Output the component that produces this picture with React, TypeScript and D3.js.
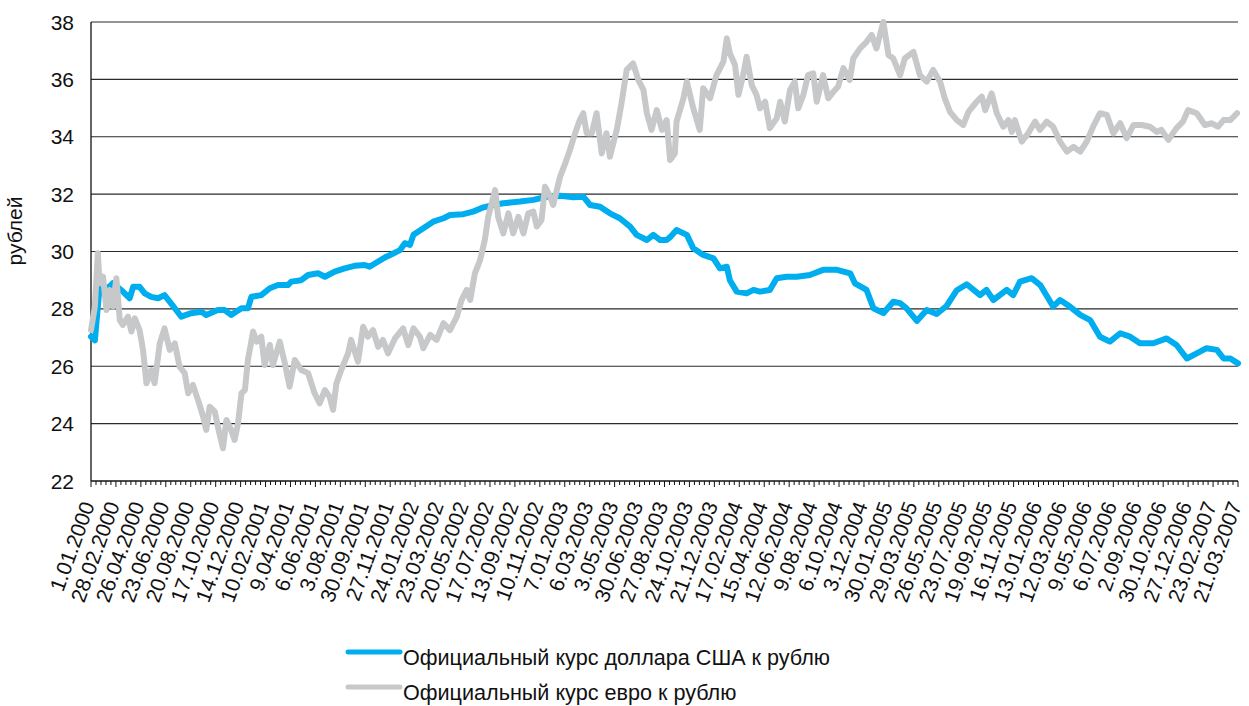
import React, { useRef, useEffect } from "react";
import * as d3 from "d3";

// category labels of the date axis (every 58 days, plus the last date)
const dateLabels = [
  "1.01.2000", "28.02.2000", "26.04.2000", "23.06.2000", "20.08.2000", "17.10.2000", "14.12.2000",
  "10.02.2001", "9.04.2001", "6.06.2001", "3.08.2001", "30.09.2001", "27.11.2001",
  "24.01.2002", "23.03.2002", "20.05.2002", "17.07.2002", "13.09.2002", "10.11.2002",
  "7.01.2003", "6.03.2003", "3.05.2003", "30.06.2003", "27.08.2003", "24.10.2003", "21.12.2003",
  "17.02.2004", "15.04.2004", "12.06.2004", "9.08.2004", "6.10.2004", "3.12.2004",
  "30.01.2005", "29.03.2005", "26.05.2005", "23.07.2005", "19.09.2005", "16.11.2005",
  "13.01.2006", "12.03.2006", "9.05.2006", "6.07.2006", "2.09.2006", "30.10.2006", "27.12.2006",
  "23.02.2007", "21.03.2007",
];

const yTicks = [22, 24, 26, 28, 30, 32, 34, 36, 38];

const seriesNames = [
  "Официальный курс доллара США к рублю",
  "Официальный курс евро к рублю",
];

// days since 1.01.2000 and rate
const usdDay = [
  0, 9, 20, 40, 51, 70, 90, 98, 113, 125,
  140, 156, 171, 183, 198, 210, 233, 257, 268, 295,
  311, 326, 350, 365, 373, 396, 416, 435, 458, 466,
  489, 505, 528, 544, 567, 590, 613, 637, 648, 668,
  687, 696, 719, 730, 742, 750, 773, 796, 820, 835,
  866, 889, 913, 936, 959, 998, 1029, 1060, 1091, 1122,
  1145, 1161, 1184, 1207, 1230, 1254, 1269, 1293, 1308, 1324,
  1339, 1347, 1362, 1386, 1401, 1424, 1448, 1463, 1479, 1486,
  1502, 1525, 1541, 1556, 1579, 1595, 1618, 1642, 1672, 1703,
  1735, 1766, 1777, 1804, 1820, 1843, 1866, 1882, 1897, 1921,
  1944, 1967, 1990, 2014, 2037, 2068, 2083, 2099, 2130, 2145,
  2161, 2188, 2208, 2238, 2254, 2277, 2301, 2324, 2347, 2370,
  2394, 2417, 2440, 2471, 2502, 2525, 2549, 2572, 2595, 2614,
  2621, 2628, 2636,
];
const usdRate = [
  27.03, 26.9, 28.77, 28.73, 28.9, 28.66, 28.37, 28.77, 28.77, 28.54,
  28.42, 28.37, 28.48, 28.25, 27.96, 27.73, 27.85, 27.9, 27.79, 27.96,
  27.96, 27.79, 28.02, 28.02, 28.42, 28.48, 28.72, 28.83, 28.83, 28.95,
  29.0, 29.18, 29.24, 29.12, 29.3, 29.41, 29.5, 29.53, 29.47, 29.65,
  29.82, 29.88, 30.05, 30.29, 30.23, 30.58, 30.81, 31.04, 31.16, 31.27,
  31.3, 31.39, 31.54, 31.62, 31.68, 31.74, 31.8, 31.91, 31.94, 31.89,
  31.91, 31.62, 31.56, 31.33, 31.16, 30.87, 30.58, 30.4, 30.58, 30.4,
  30.4, 30.5, 30.75, 30.58, 30.11, 29.88, 29.76, 29.41, 29.47, 29.0,
  28.6, 28.54, 28.66, 28.6, 28.66, 29.07, 29.12, 29.12, 29.18, 29.36,
  29.36, 29.24, 28.89, 28.66, 28.02, 27.85, 28.25, 28.2, 28.02, 27.58,
  27.96, 27.82, 28.1, 28.65, 28.86, 28.48, 28.66, 28.31, 28.66, 28.48,
  28.95, 29.07, 28.83, 28.08, 28.31, 28.08, 27.79, 27.61, 27.03, 26.86,
  27.15, 27.03, 26.8, 26.8, 26.97, 26.74, 26.27, 26.45, 26.63, 26.57,
  26.27, 26.27, 26.1,
];

const eurDay = [
  0, 9, 16, 20, 28, 36, 43, 51, 59, 67,
  74, 86, 94, 102, 113, 121, 129, 140, 148, 160,
  171, 183, 195, 206, 218, 226, 237, 249, 261, 268,
  276, 288, 295, 307, 315, 326, 334, 342, 350, 358,
  365, 377, 385, 396, 404, 416, 423, 439, 451, 462,
  474, 489, 505, 520, 532, 544, 555, 563, 571, 582,
  598, 605, 621, 633, 644, 656, 668, 679, 691, 707,
  726, 738, 750, 765, 773, 789, 804, 820, 835, 851,
  862, 874, 882, 893, 905, 916, 924, 940, 947, 959,
  971, 982, 994, 1006, 1017, 1029, 1037, 1048, 1056, 1068,
  1075, 1091, 1103, 1114, 1126, 1137, 1145, 1153, 1165, 1176,
  1188, 1199, 1207, 1223, 1234, 1246, 1261, 1273, 1285, 1293,
  1304, 1316, 1328, 1339, 1347, 1358, 1362, 1378, 1386, 1401,
  1416, 1424, 1440, 1455, 1471, 1479, 1486, 1498, 1506, 1517,
  1525, 1537, 1548, 1556, 1568, 1579, 1595, 1603, 1614, 1626,
  1637, 1645, 1657, 1668, 1680, 1688, 1703, 1715, 1727, 1738,
  1750, 1765, 1773, 1789, 1804, 1816, 1827, 1843, 1855, 1866,
  1882, 1893, 1913, 1928, 1944, 1959, 1975, 1986, 1998, 2014,
  2029, 2041, 2060, 2072, 2080, 2095, 2107, 2122, 2134, 2142,
  2149, 2165, 2180, 2196, 2207, 2223, 2238, 2254, 2270, 2285,
  2301, 2316, 2331, 2347, 2363, 2378, 2394, 2409, 2425, 2444,
  2463, 2479, 2490, 2506, 2525, 2540, 2552, 2572, 2591, 2607,
  2615, 2621, 2628, 2635,
];
const eurRate = [
  27.26, 28.08, 29.94, 28.89, 29.12, 27.96, 28.66, 28.08, 29.07, 27.61,
  27.44, 27.73, 27.21, 27.67, 27.26, 26.57, 25.41, 25.87, 25.41, 26.8,
  27.32, 26.57, 26.8, 25.99, 25.76, 25.06, 25.35, 24.82, 24.24, 23.78,
  24.59, 24.42, 23.9, 23.14, 24.13, 23.78, 23.43, 24.01, 25.06, 25.17,
  26.22, 27.21, 26.86, 27.03, 26.04, 26.74, 26.04, 26.86, 26.1, 25.29,
  26.22, 25.87, 25.76, 25.06, 24.71, 25.17, 24.94, 24.48, 25.41, 25.87,
  26.45, 26.92, 26.16, 27.38, 27.03, 27.26, 26.68, 26.92, 26.45, 26.97,
  27.32, 26.74, 27.32, 27.03, 26.63, 27.09, 26.92, 27.5, 27.26, 27.73,
  28.31, 28.66, 28.31, 29.24, 29.7, 30.4, 31.21, 32.14, 31.21, 30.63,
  31.33, 30.63, 31.21, 30.63, 31.33, 31.39, 30.87, 31.1, 32.26, 31.91,
  31.62, 32.6, 33.07, 33.54, 34.12, 34.58, 34.82, 34.12, 34.12, 34.82,
  33.42, 34.12, 33.3, 34.24, 35.17, 36.33, 36.56, 35.98, 35.63, 34.82,
  34.24, 34.93, 34.24, 34.58, 33.19, 33.42, 34.53, 35.34, 35.92, 34.99,
  34.24, 35.69, 35.34, 36.15, 36.62, 37.43, 36.91, 36.5, 35.46, 36.15,
  36.79, 35.8, 35.46, 34.99, 35.22, 34.3, 34.64, 35.22, 34.53, 35.63,
  35.92, 34.99, 35.46, 36.15, 36.21, 35.22, 36.15, 35.34, 35.57, 35.75,
  36.39, 35.98, 36.73, 37.08, 37.31, 37.55, 37.08, 38.0, 36.85, 36.73,
  36.15, 36.73, 36.96, 36.15, 35.92, 36.33, 35.92, 35.34, 34.87, 34.58,
  34.41, 34.87, 35.22, 35.4, 34.93, 35.51, 34.82, 34.35, 34.58, 34.17,
  34.58, 33.83, 34.12, 34.53, 34.24, 34.53, 34.35, 33.83, 33.48, 33.65,
  33.48, 33.83, 34.35, 34.82, 34.76, 34.12, 34.47, 33.95, 34.41, 34.41,
  34.35, 34.17, 34.24, 33.89, 34.3, 34.53, 34.93, 34.82, 34.41, 34.47,
  34.35, 34.58, 34.58, 34.82,
];

const App = () => {
  const ref = useRef(null);

  useEffect(() => {
    const width = 1249;
    const height = 706;
    const left = 91;
    const right = 1238;
    const top = 22;
    const bottom = 481;
    const font = "'Liberation Sans', Arial, sans-serif";
    const colors = ["#00aeef", "#c7c8ca"];

    const svg = d3.select(ref.current).attr("width", width).attr("height", height);
    svg.selectAll("*").remove();

    const parse = d3.timeParse("%d.%m.%Y");
    const start = parse(dateLabels[0]);
    const labelDays = dateLabels.map((s) => d3.timeDay.count(start, parse(s)));

    // labels sit evenly on a category-like axis
    const xIdx = d3.scaleLinear().domain([0, dateLabels.length - 1]).range([left, right]);
    const x = d3.scaleLinear().domain(labelDays).range(labelDays.map((_, i) => xIdx(i)));
    const y = d3.scaleLinear().domain([22, 38]).range([bottom, top]);

    // gridlines
    svg
      .append("g")
      .selectAll("line")
      .data(yTicks.slice(1))
      .enter()
      .append("line")
      .attr("x1", left)
      .attr("x2", right)
      .attr("y1", (d) => y(d))
      .attr("y2", (d) => y(d))
      .attr("stroke", "#2a2a2a")
      .attr("stroke-width", 1.2);

    // y labels
    svg
      .append("g")
      .selectAll("text")
      .data(yTicks)
      .enter()
      .append("text")
      .attr("x", 74)
      .attr("y", (d) => y(d))
      .attr("dy", "0.36em")
      .attr("text-anchor", "end")
      .style("font-family", font)
      .style("font-size", "21px")
      .style("fill", "#111")
      .text((d) => d);

    svg
      .append("text")
      .attr("transform", `translate(22, 231) rotate(-90)`)
      .attr("text-anchor", "middle")
      .style("font-family", font)
      .style("font-size", "21px")
      .style("fill", "#111")
      .text("рублей");

    // axes
    svg
      .append("line")
      .attr("x1", left)
      .attr("x2", left)
      .attr("y1", top)
      .attr("y2", bottom)
      .attr("stroke", "#111")
      .attr("stroke-width", 1.3);
    svg
      .append("line")
      .attr("x1", left)
      .attr("x2", right)
      .attr("y1", bottom)
      .attr("y2", bottom)
      .attr("stroke", "#111")
      .attr("stroke-width", 1.3);

    const minor = d3.range(0, (dateLabels.length - 1) * 5 + 1).map((k) => k / 5);
    svg
      .append("g")
      .selectAll("line")
      .data(minor)
      .enter()
      .append("line")
      .attr("x1", (d) => xIdx(d))
      .attr("x2", (d) => xIdx(d))
      .attr("y1", bottom)
      .attr("y2", (d) => bottom + (Number.isInteger(d) ? 6 : 4))
      .attr("stroke", "#111")
      .attr("stroke-width", 1);

    // x labels
    svg
      .append("g")
      .selectAll("text")
      .data(dateLabels)
      .enter()
      .append("text")
      .attr("transform", (d, i) => `translate(${xIdx(i) + 4}, 505) rotate(-70)`)
      .attr("text-anchor", "end")
      .style("font-family", font)
      .style("font-size", "21px")
      .style("fill", "#111")
      .text((d) => d);

    // series
    const line = d3
      .line()
      .x((d) => x(d[0]))
      .y((d) => y(d[1]));

    const series = [
      d3.zip(usdDay, usdRate),
      d3.zip(eurDay, eurRate),
    ];

    svg
      .append("g")
      .selectAll("path")
      .data(series)
      .enter()
      .append("path")
      .attr("d", line)
      .attr("fill", "none")
      .attr("stroke", (d, i) => colors[i])
      .attr("stroke-width", 6)
      .attr("stroke-linejoin", "round")
      .attr("stroke-linecap", "round");

    // legend
    const legend = svg
      .append("g")
      .selectAll("g")
      .data(seriesNames)
      .enter()
      .append("g")
      .attr("transform", (d, i) => `translate(348, ${652 + i * 35})`);

    legend
      .append("line")
      .attr("x1", 0)
      .attr("x2", 52)
      .attr("stroke", (d, i) => colors[i])
      .attr("stroke-width", 5)
      .attr("stroke-linecap", "round");

    legend
      .append("text")
      .attr("x", 55)
      .attr("y", 13)
      .style("font-family", font)
      .style("font-size", "21.6px")
      .style("fill", "#111")
      .text((d) => d);
  }, []);

  return (
    <div>
      <svg ref={ref} style={{ position: "absolute", left: 0, top: 0 }}></svg>
    </div>
  );
};

export default App;
